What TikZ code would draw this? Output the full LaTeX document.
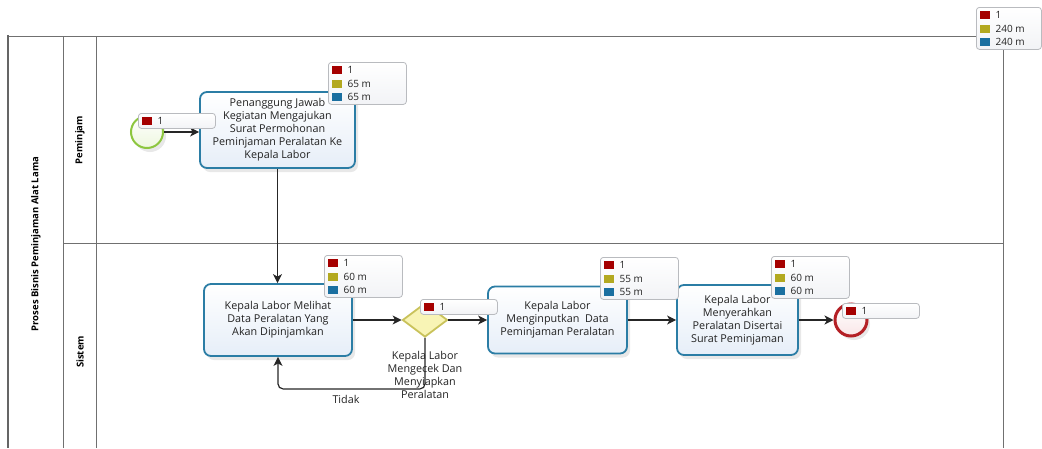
\documentclass[tikz,border=0pt]{standalone}
\usepackage{fontspec}
\setmainfont{Open Sans}
\usetikzlibrary{arrows.meta,shapes.geometric,shadows,calc}

\definecolor{lanegray}{HTML}{707070}
\definecolor{taskedge}{HTML}{2B7DA5}
\definecolor{taskfill}{HTML}{E6EEF8}
\definecolor{startedge}{HTML}{8DC63F}
\definecolor{startfill}{HTML}{EEF7DF}
\definecolor{endedge}{HTML}{B42025}
\definecolor{endfill}{HTML}{F9E6E7}
\definecolor{gwedge}{HTML}{C9C25A}
\definecolor{gwfill}{HTML}{F8F4B5}
\definecolor{cntred}{HTML}{A50000}
\definecolor{cntolive}{HTML}{B3A920}
\definecolor{cntblue}{HTML}{1A6FA0}
\definecolor{badgeedge}{HTML}{B9BBBF}
\definecolor{badgefill}{HTML}{F2F3F6}
\definecolor{inktext}{HTML}{222222}

% statistics box with a single counter row
\newcommand{\onebadge}[4]{%
  \node[badge, minimum width=#4pt, minimum height=15pt, anchor=north west] (#1) at (#2,#3) {};
  \node[cnt=cntred, anchor=west] (#1-sq1) at ([xshift=4pt,yshift=-7.5pt]#1.north west) {};
  \node[cnttext, anchor=west] (#1-v1) at ([xshift=5pt]#1-sq1.east) {1};
}
% statistics box with counter and two durations
\newcommand{\threebadge}[6]{%
  \node[badge, minimum width=#4pt, minimum height=42pt, anchor=north west] (#1) at (#2,#3) {};
  \node[cnt=cntred, anchor=west] (#1-sq1) at ([xshift=4pt,yshift=-8pt]#1.north west) {};
  \node[cnt=cntolive, anchor=west] (#1-sq2) at ([xshift=4pt,yshift=-21.5pt]#1.north west) {};
  \node[cnt=cntblue, anchor=west] (#1-sq3) at ([xshift=4pt,yshift=-35pt]#1.north west) {};
  \node[cnttext, anchor=west] (#1-v1) at ([xshift=5pt]#1-sq1.east) {1};
  \node[cnttext, anchor=west] (#1-v2) at ([xshift=5pt]#1-sq2.east) {#5};
  \node[cnttext, anchor=west] (#1-v3) at ([xshift=5pt]#1-sq3.east) {#6};
}

\begin{document}
\begin{tikzpicture}[x=1pt,y=-1pt,
  lane/.style={draw=lanegray, line width=0.9pt},
  pooledge/.style={draw=lanegray!90!black, line width=2.4pt},
  lanetitle/.style={rotate=90, font=\bfseries\fontsize{9.5}{11}\selectfont, text=black},
  task/.style={draw=taskedge, line width=1.8pt, rounded corners=7pt,
    top color=white, bottom color=taskfill, align=center, inner sep=0pt,
    text=inktext, font=\fontsize{10.8}{13}\selectfont,
    drop shadow={opacity=0.18, shadow xshift=3pt, shadow yshift=-4pt}},
  startev/.style={circle, draw=startedge, line width=2pt, inner sep=0pt,
    minimum size=32pt, top color=white, bottom color=startfill,
    drop shadow={opacity=0.18, shadow xshift=3pt, shadow yshift=-4pt}},
  endev/.style={circle, draw=endedge, line width=3pt, inner sep=0pt,
    minimum size=32pt, top color=white, bottom color=endfill,
    drop shadow={opacity=0.18, shadow xshift=3pt, shadow yshift=-4pt}},
  gateway/.style={diamond, draw=gwedge, line width=1.8pt, inner sep=0pt,
    minimum width=45pt, minimum height=34pt, fill=gwfill},
  note/.style={align=center, text=inktext, font=\fontsize{10.8}{13}\selectfont, inner sep=0pt},
  flow/.style={draw=black!85, line width=1.2pt,
    -{Stealth[length=9pt, width=9pt, inset=2.5pt]}},
  badge/.style={draw=badgeedge, line width=0.8pt, rounded corners=3pt,
    top color=white, bottom color=badgefill, inner sep=0pt},
  cnt/.style={fill=#1, minimum width=10pt, minimum height=8pt, inner sep=0pt},
  cnttext/.style={text=inktext, font=\fontsize{10}{11}\selectfont, inner sep=0pt}
]
\useasboundingbox (0,0) rectangle (1042,448);

% pool and lanes
\draw[lane] (8,36) -- (1003,36) -- (1003,448);
\draw[lane] (63,36) -- (63,448);
\draw[lane] (96,36) -- (96,448);
\draw[lane] (63,243) -- (1003,243);
\draw[pooledge] (8,35) -- (8,448);
\node[lanetitle] (pool) at (36,244) {Proses Bisnis Peminjaman Alat Lama};
\node[lanetitle] (lane1) at (80,140) {Peminjam};
\node[lanetitle] (lane2) at (80,352) {Sistem};

% activities and events
\node[startev] (start) at (147,132) {};
\node[task, minimum width=155pt, minimum height=76pt] (t1) at (277.5,130)
  {Penanggung Jawab\\Kegiatan Mengajukan\\Surat Permohonan\\Peminjaman Peralatan Ke\\Kepala Labor};
\node[task, minimum width=148pt, minimum height=72pt] (t2) at (278,320)
  {Kepala Labor Melihat\\Data Peralatan Yang\\Akan Dipinjamkan};
\node[gateway] (gw) at (425,320) {};
\node[note] (gwtext) at (425,375) {Kepala Labor\\Mengecek Dan\\Menyiapkan\\Peralatan};
\node[task, minimum width=139pt, minimum height=67pt] (t3) at (557.5,320)
  {Kepala Labor\\Menginputkan\ \ Data\\Peminjaman Peralatan};
\node[task, minimum width=121pt, minimum height=70pt] (t4) at (737.5,320)
  {Kepala Labor\\Menyerahkan\\Peralatan Disertai\\Surat Peminjaman};
\node[endev] (end) at (851,320) {};

% sequence flows
\draw[flow] (start.east) -- (start.east -| t1.west);
\draw[flow] (t1.south) -- (t1.south |- t2.north);
\draw[flow] (t2.east) -- (gw.west);
\draw[flow, rounded corners=5pt] (gw.south) -- ++(0,51) -| (t2.south);
\node[note] (tidak) at (346,399) {Tidak};
\draw[flow] (gw.east) -- (gw.east -| t3.west);
\draw[flow] (t3.east) -- (t3.east -| t4.west);
\draw[flow] (t4.east) -- (t4.east -| end.west);

% statistics
\onebadge{bstart}{138}{113}{77}
\threebadge{bt1}{328}{62}{78}{65 m}{65 m}
\threebadge{bt2}{324}{255}{78}{60 m}{60 m}
\onebadge{bgw}{420}{299}{77}
\threebadge{bt3}{600}{257}{78}{55 m}{55 m}
\threebadge{bt4}{771}{256}{78}{60 m}{60 m}
\onebadge{bend}{842}{303}{77}
\threebadge{btotal}{976}{7}{65}{240 m}{240 m}
\end{tikzpicture}
\end{document}
